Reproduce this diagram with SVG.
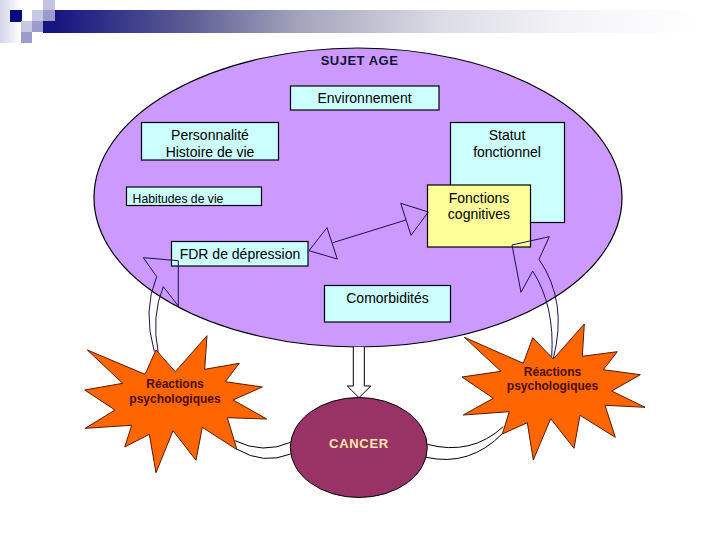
<svg xmlns="http://www.w3.org/2000/svg" width="720" height="540" viewBox="0 0 720 540">
<defs>
<linearGradient id="band" gradientUnits="userSpaceOnUse" x1="55" x2="700" y1="0" y2="0"><stop offset="0" stop-color="#161680"/><stop offset="0.2" stop-color="#5a5a94"/><stop offset="0.38" stop-color="#a4a4bc"/><stop offset="0.6" stop-color="#dcdce6"/><stop offset="0.8" stop-color="#f4f4f8"/><stop offset="1" stop-color="#ffffff"/></linearGradient>
<linearGradient id="side" x1="0" x2="1" y1="0" y2="0"><stop offset="0" stop-color="#d4d4ea"/><stop offset="1" stop-color="#ffffff"/></linearGradient>
</defs>
<style>
text{font-family:"Liberation Sans",Arial,sans-serif;font-size:14px;fill:#000;text-anchor:middle}
.box{fill:#ccffff;stroke:#000;stroke-width:1.2}
.star{fill:#ff6600;stroke:#5a1a00;stroke-width:1}
.st{font-size:12px;font-weight:bold;fill:#4a0f0f}
.ln{fill:none;stroke:#1c1050;stroke-width:1}
.cv{fill:none;stroke:#000;stroke-width:1}
</style>
<g id="decor">
<rect x="0" y="0" width="21" height="43" fill="url(#side)"/>
<rect x="43" y="21" width="12" height="12" fill="#161680"/>
<rect x="55" y="10" width="645" height="23" fill="url(#band)"/>
<rect x="10" y="10" width="12" height="12" fill="#0a0a80"/>
<rect x="32" y="10" width="11" height="11" fill="#c8c8e4"/>
<rect x="43" y="0" width="12" height="10" fill="#c4c4e2"/>
<rect x="43" y="10" width="12" height="11" fill="#9c9ccc"/>
<rect x="21" y="21" width="11" height="11" fill="#c8c8e4"/>
<rect x="32" y="21" width="11" height="11" fill="#9c9ccc"/>
<rect x="21" y="32" width="11" height="11" fill="#9c9ccc"/>
</g>
<g id="sujet-age">
<ellipse cx="358" cy="197.500" rx="264" ry="149.500" fill="#cc99ff" stroke="#000" stroke-width="1.200"/>
<text x="359.500" y="65" style="font-size:13px;font-weight:bold;letter-spacing:.5px;fill:#111133">SUJET AGE</text>
</g>
<g id="environnement"><rect class="box" x="290.500" y="86" width="148.500" height="24"/><text x="364.500" y="103">Environnement</text></g>
<g id="personnalite"><rect class="box" x="141.500" y="122.500" width="137" height="37.500"/><text x="210" y="140">Personnalité</text><text x="210" y="157">Histoire de vie</text></g>
<g id="habitudes"><rect class="box" x="126.500" y="187" width="135" height="18.500"/><text x="178" y="203" style="font-size:12.200px">Habitudes de vie</text></g>
<g id="statut"><rect class="box" x="450.500" y="122.500" width="114" height="100"/><text x="507" y="140">Statut</text><text x="507" y="157">fonctionnel</text></g>
<g id="fonctions"><rect x="427.500" y="185" width="103" height="62" fill="#ffff99" stroke="#000" stroke-width="1.200"/><text x="479" y="203">Fonctions</text><text x="479" y="219">cognitives</text></g>
<g id="fdr"><rect class="box" x="171.500" y="241.500" width="136.500" height="24.500"/><text x="240" y="259">FDR de dépression</text></g>
<g id="comorbidites"><rect class="box" x="324.500" y="285.500" width="126" height="36.500"/><text x="387.500" y="303">Comorbidités</text></g>
<g id="connectors">
<path class="ln" d="M143.300 257.700L178.300 260.700V306L163.300 286.700Q151 316 158.300 353.300M143.300 257.700L156.700 276.700Q142.500 310 154.300 351.700"/>
<path class="ln" d="M512 245L549.300 236.700L539 259.300Q568 301.500 553.300 358.300M512 245L521 292.300L532.700 271Q555 306 551.700 356.700"/>
<path class="cv" d="M235 440.700Q263 454.500 290.700 442.300M237.300 449.300Q263 465 290.700 454"/>
<path class="cv" d="M427.300 444.300Q471 456 503.300 426.700M426 457.300Q470 467 502.700 433.300"/>
<path class="ln" d="M309 250.700L327 227.700L337.300 259ZM332.700 242.700L406 220M400.700 203.300L428.300 212L411 235.300Z"/>
<path d="M353.300 347V386H347.300L359 397.700L370.700 386H364.300V347" fill="#fff" stroke="#000" stroke-width="1"/>
</g>
<g id="star-left">
<polygon class="star" points="87.300,350 145,374.300 156,350 175.300,371.700 207,335.700 204.700,369.300 239.300,363.300 225.300,381.700 262.300,387 233,400 266.700,419 227.300,417.700 237,449.700 202.300,427.300 196,460.300 173,430.700 156,472.700 149.300,434.300 124.700,447 131.700,425.300 85.300,428.300 115,410 84.700,390 122.700,383.300"/>
<text class="st" x="175" y="388">Réactions</text><text class="st" x="175" y="403">psychologiques</text>
</g>
<g id="star-right">
<polygon class="star" points="464.300,337.300 523.300,363.300 532.700,337.700 553.300,359 584.300,324 582.300,356.300 617.300,351.700 603.300,369.700 640.300,374.700 611.700,391 645,407.300 605,405.300 615.300,437.300 580,415.300 574,448.300 550.700,418.700 533.300,460 527.300,422.700 502.300,434 509.300,411.700 463.300,415 493.300,398.300 462,377 501,371.300"/>
<text class="st" x="552.500" y="376">Réactions</text><text class="st" x="552.500" y="390">psychologiques</text>
</g>
<g id="cancer">
<ellipse cx="358.800" cy="447.500" rx="68.500" ry="50" fill="#993366" stroke="#000" stroke-width="1"/>
<text x="359" y="448" style="font-size:13px;font-weight:bold;letter-spacing:.7px;fill:#ffe9a8">CANCER</text>
</g>
</svg>
